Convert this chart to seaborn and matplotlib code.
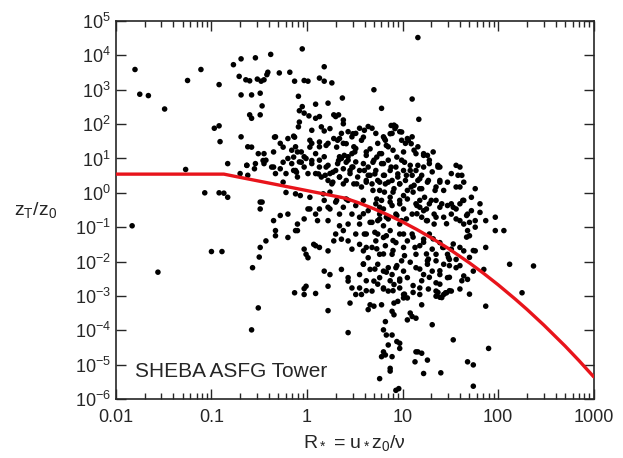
import seaborn as sns
import matplotlib.pyplot as plt
import matplotlib.ticker as mticker
import pandas as pd
import numpy as np

# scatter points, as decimal exponents (log10 R*, log10 zT/z0)
log_rstar = [
    1.16, -0.05, -0.38, -0.54, -0.69, -0.77, -1.80, -1.11, 0.18, -0.71, -0.41, -0.42, -0.29, -0.18,
    -0.64, -0.60, -0.52, -0.48, -0.45, -1.25, -0.13, -0.03, 0.01, 0.13, 0.18, 0.26, -0.92, -1.75,
    -1.66, -0.69, -0.58, -0.49, -0.09, 0.70, 1.10, 0.37, -1.49, -0.47, 0.09, 0.22, 0.78, -0.05,
    -0.08, -0.03, 0.02, 0.28, 0.30, 0.33, -0.60, -0.58, -0.49, 0.09, 0.13, 0.38, 1.17, -0.97,
    -0.92, -0.91, -0.69, -0.33, -0.14, 0.18, 0.03, 0.05,
    # 10 .. 100
    -0.62, -0.45, -0.28, -0.12, -0.10, -0.03, 0.13, 0.22, 0.28, 0.32, 0.36, 0.38, 0.43, 0.47,
    0.49, 0.51, 0.55, 0.57, 0.62, 0.64, 0.68, 0.72, 0.74, 0.78, 0.85, 0.89, 0.91, 0.93, 0.97,
    0.99, 1.03, 1.05, 1.10, 1.12, 1.14, 1.16, 1.22, 1.26, 0.47, 0.51, 0.39, 0.34, 0.43, 0.18,
    0.09, 0.80, 0.82,
    # 1 .. 10
    -0.83, -0.70, -0.63, -0.62, -0.54, -0.45, -0.43, -0.37, -0.33, -0.28, -0.22, -0.20, -0.16,
    -0.12, -0.10, -0.08, -0.03, -0.01, 0.01, 0.05, 0.09, 0.13, 0.15, 0.20, 0.22, 0.24, 0.26,
    0.30, 0.32, 0.34, 0.36, 0.38, 0.41, 0.43, 0.45, 0.47, 0.49, 0.51, 0.53, 0.55, 0.57, 0.59,
    0.62, 0.64, 0.66, 0.68, 0.70, 0.72, 0.74, 0.76, 0.78, 0.80, 0.82, 0.85, 0.87, 0.89, 0.91,
    0.93, 0.95, 0.97, 0.99, 1.01, 1.03, 1.05, 1.08, 1.10, 1.12, 1.14, 1.16, 1.18, 1.20, 1.22,
    1.26, 1.31, 1.35, 1.39, 1.43, 1.47, 1.51, 1.60, 1.62, 1.64, 1.56, 1.37, 1.28, 1.39, -1.27,
    # 0.1 .. 1
    -0.92, -0.87, -0.83, -1.07, -0.47, -0.49, -0.22, -0.12, 0.03, 0.09, 0.13, 0.18, 0.24, 0.30,
    0.34, 0.38, 0.43, 0.47, 0.51, 0.55, 0.59, 0.64, 0.68, 0.72, 0.76, 0.78, 0.80, 0.85, 0.87,
    0.89, 0.93, 0.97, 0.99, 1.01, 1.05, 1.10, 1.14, 1.18, 1.20, 1.22, 1.26, 1.28, 1.33, 1.35,
    1.39, 1.43, 1.47, 1.51, 1.56, 1.60, 1.64, 1.68, 1.72, 1.76, 1.81, 1.87, 1.97, 2.06, 1.72,
    1.51, 1.60, 1.81, 1.18, 1.33, 1.64, 1.70, 0.97, 0.80, 0.76, 0.55, 0.43, 0.34, 0.22, 0.11,
    -0.03, -0.10, -0.12, -0.20, -0.33, -0.35, -0.28, -1.83,
    # 0.01 .. 0.1
    -0.43, -0.49, -0.33, -0.20, -0.10, -0.03, -0.01, 0.01, 0.07, 0.09, 0.13, 0.22, 0.28, 0.30,
    0.36, 0.38, 0.43, 0.47, 0.51, 0.55, 0.59, 0.62, 0.64, 0.68, 0.72, 0.74, 0.76, 0.80, 0.82,
    0.87, 0.89, 0.93, 0.97, 0.99, 1.01, 1.05, 1.10, 1.14, 1.18, 1.22, 1.26, 1.28, 1.31, 1.35,
    1.39, 1.43, 1.47, 1.51, 1.56, 1.60, 1.64, 1.68, 1.70, 1.76, 1.97, 1.87, 1.49, -1.00, -0.89,
    -0.50,
    # 0.001 .. 0.01
    -1.56, -0.57, 0.18, 0.24, 0.36, 0.43, 0.47, 0.55, 0.59, 0.66, 0.70, 0.74, 0.76, 0.80, 0.85,
    0.89, 0.91, 0.97, 1.01, 1.05, 1.14, 1.18, 1.22, 1.26, 1.31, 1.35, 1.39, 1.43, 1.47, 1.51,
    1.56, 1.64, 1.68, 1.74, 1.85, 2.12, 2.37, 1.18, 1.35, 1.43, 1.46, 0.97, 0.68, 0.85, 0.55,
    -0.01, -0.03, 0.22, 0.43, 0.80, 0.93,
    # 1e-4 .. 1e-3
    -0.13, -0.03, 0.09, -0.51, 0.22, 0.45, 0.51, 0.57, 0.66, 0.78, 0.91, 0.95, 1.01, 1.05, 1.20,
    1.35, 1.39, 1.45, 1.87, 2.25, 1.08, 1.10, 1.14, 1.05, 0.82, 1.31, 0.43, 0.80, 0.64, 0.70,
    0.89, 0.91,
    # 1e-5 .. 1e-4
    -0.58, 0.83, 0.89, 0.85, 0.94, 0.97, 1.53, 1.90, 0.80, 0.82, 1.14, 1.16, 1.20, 0.78, 0.89,
    0.97, 1.13, 1.26,
    # 1e-6 .. 1e-5
    0.87, 1.68, 1.74, 0.76, 0.87, 1.22, 1.40, 0.96, 1.74, 0.93,
]
log_ratio = [
    4.52, 4.19, 4.03, 3.93, 3.90, 3.73, 3.59, 3.59, 3.67, 3.39, 3.51, 3.44, 3.49, 3.51,
    3.29, 3.26, 3.31, 3.25, 3.29, 3.27, 3.25, 3.27, 3.25, 3.34, 3.25, 3.20, 3.15, 2.87,
    2.83, 2.85, 2.85, 2.90, 2.81, 3.00, 2.73, 2.76, 2.44, 2.53, 2.58, 2.61, 2.46, 2.51,
    2.39, 2.32, 2.24, 2.27, 2.22, 2.27, 2.27, 2.17, 2.27, 2.17, 2.22, 2.12, 2.14, 1.88,
    1.95, 1.49, 1.63, 1.63, 1.65, 1.80, 1.53, 1.44,
    1.34, 1.14, 1.44, 1.34, 1.19, 1.05, 1.34, 1.44, 1.58, 1.53, 1.73, 1.44, 1.78, 1.63,
    1.34, 1.73, 1.88, 1.53, 1.19, 1.93, 1.88, 1.73, 1.44, 1.14, 1.34, 1.73, 1.97, 1.93, 1.78,
    1.53, 1.44, 1.58, 1.63, 1.24, 1.14, 1.34, 1.14, 1.09, 1.14, 1.29, 1.09, 1.05, 1.05, 1.05,
    1.14, 1.63, 1.53,
    0.85, 0.56, 0.80, 0.51, 0.85, 0.85, 0.95, 0.75, 0.56, 0.70, 0.56, 1.00, 0.85,
    0.65, 0.46, 0.90, 0.75, 1.00, 0.56, 0.85, 0.56, 0.95, 0.46, 0.75, 0.36, 0.56, 0.26,
    0.65, 0.85, 0.46, 1.00, 0.70, 0.36, 0.95, 0.56, 0.75, 0.26, 0.90, 0.46, 0.65, 0.17, 0.85,
    0.36, 0.75, 0.51, 0.26, 0.95, 0.65, 0.36, 0.07, 0.85, 0.51, 0.26, 0.95, 0.65, 0.36, 0.12,
    0.75, 0.46, 0.26, 0.95, 0.65, 0.36, 0.07, 0.80, 0.51, 0.22, 0.65, 0.36, 0.12, 0.51, 0.75,
    0.31, 0.61, 0.17, 0.36, 0.07, 0.31, 0.56, 0.75, 0.51, 0.31, 0.17, 0.80, 0.95, 0.75, 0.68,
    0.00, -0.01, -0.13, 0.00, -0.27, -0.47, 0.01, -0.03, -0.47, -0.62, -0.47, -0.22, -0.47, -0.27,
    -0.62, -0.42, -0.22, -0.62, -0.37, -0.71, -0.22, -0.52, -0.86, -0.32, -0.62, -0.22, -0.47, -0.76, -0.13,
    -0.37, -0.62, -0.22, -0.81, -0.47, -0.18, -0.62, -0.32, -0.22, -0.71, -0.52, -0.81, -0.32, -0.62, -0.22,
    -0.42, -0.71, -0.37, -0.62, -0.47, -0.81, -0.22, -0.62, -0.52, -0.81, -0.32, -0.81, -0.71, -1.10, -0.13,
    -0.32, -0.32, -0.57, -0.42, -0.91, -0.91, -0.86, -0.91, -0.96, -0.76, -0.91, -0.91, -0.96, -0.81, -0.81,
    -0.76, -0.91, -1.10, -0.62, -1.10, -0.81, -0.66, -0.96,
    -1.40, -1.59, -1.25, -1.30, -1.10, -1.64, -1.79, -1.89, -1.50, -1.54, -1.59, -1.69, -1.40, -1.20,
    -1.35, -1.10, -1.40, -1.64, -1.20, -1.50, -1.69, -1.20, -1.89, -1.59, -1.40, -1.20, -1.79, -1.30, -1.54,
    -1.10, -1.79, -1.45, -1.20, -1.98, -1.59, -1.40, -1.20, -1.79, -1.54, -1.35, -1.98, -1.20, -1.64, -1.79,
    -1.45, -1.59, -1.79, -1.64, -1.94, -1.59, -1.69, -1.10, -1.25, -1.69, -1.10, -1.59, -1.94, -1.71, -1.71,
    -1.87,
    -2.31, -2.18, -2.28, -2.38, -2.23, -2.57, -2.77, -2.38, -2.08, -2.23, -2.57, -2.08, -2.47, -2.77, -2.18,
    -2.38, -2.67, -2.57, -2.28, -2.47, -2.18, -2.77, -2.38, -2.08, -2.28, -2.62, -2.38, -2.08, -2.47, -2.86,
    -2.18, -2.42, -2.52, -2.28, -2.23, -2.08, -2.13, -2.96, -2.86, -2.96, -2.91, -2.77, -2.86, -2.86, -2.77,
    -2.72, -2.79, -2.72, -2.47, -2.28, -2.18,
    -2.91, -2.96, -2.93, -3.35, -3.43, -3.21, -2.96, -2.96, -3.26, -3.26, -3.21, -3.16, -2.96, -3.06, -3.26,
    -3.01, -3.04, -2.91, -3.30, -2.91, -3.50, -3.60, -3.65, -3.70, -3.75, -3.84, -4.07, -3.99, -3.40, -3.30,
    -3.45, -3.55,
    -3.99, -4.14, -4.14, -4.43, -4.33, -4.38, -4.28, -4.53, -4.63, -4.72, -4.63, -4.63, -4.67, -4.77, -4.77,
    -4.53, -4.92, -4.87,
    -5.11, -4.92, -5.01, -5.41, -5.19, -5.26, -5.24, -5.70, -5.63, -5.75,
]

# extra points of the dense core (R* about 0.2 .. 60), read from close-ups
core_rstar = [
    0.88, 0.92, 0.99, 0.87, 0.60, 0.59, 0.81, 0.83, 1.06, 1.09, 0.66, 0.90, 1.01, 0.62, 0.73,
    0.76, 0.94, 1.22, 1.32, 0.69, 0.80, 0.88, 1.02, 1.08, 1.16, 1.28, 1.37, 1.56, 1.58, 0.60,
    0.64, 0.71, 0.81, 0.95, 1.04, 1.18, 1.27, 1.39, 0.62, 0.76, 0.85, 0.97, 1.09, 1.20, 1.34,
    1.60, 1.76, 0.69, 0.81, 0.90, 1.01, 1.11, 1.23, 1.30, 1.41, 1.53, 1.63, 0.73, 0.87, 0.97,
    0.76, 1.15, 1.25,
    -0.08, -0.09, 0.05, 0.15, 0.24, 0.38, 0.48, 0.34, -0.13, -0.20, -0.34, -0.58, -0.51, -0.35,
    -0.25, -0.16, -0.06, 0.03, 0.13, 0.20, 0.31, 0.41, 0.50, -0.63, -0.55, -0.46, -0.35, -0.25,
    -0.14, -0.06, 0.05, 0.13, 0.22, 0.33, 0.41, 0.48, -0.14, -0.11, 0.12, 0.19, 0.27, 0.34,
    0.45, 0.27, 0.38, 0.52, -0.25, -0.49, -0.07, 0.03, 0.17, 0.24, 0.31, 0.41, 0.01, 0.22,
    0.59, 0.66, 0.74, 0.83, 0.94, 1.04, 1.15, 1.25, 1.35, 1.46, 1.56, 1.67, 1.76, 0.60, 0.71,
    0.83, 0.90, 1.01, 1.11, 1.22, 1.32, 1.42, 1.53, 1.67, 1.74, 0.62, 0.73, 0.80, 0.90, 1.02,
    1.13, 1.25, 1.35, 1.48, 1.60, 1.70, 0.59, 0.71, 0.83, 0.94, 1.08, 1.18, 1.27, 1.39, 1.49,
    0.62, 0.74, 0.87, 0.97, 1.11, 1.20, 1.28, 1.39, 1.49, 1.62, 0.62, 0.80, 0.90, 1.02, 1.11,
    1.27, 1.37, 1.49, 1.60, 1.70, 1.41, 1.01,
]
core_ratio = [
    1.96, 1.87, 1.77, 1.72, 1.82, 1.62, 1.58, 1.38, 1.53, 1.43, 1.28, 1.24, 1.19, 1.09, 1.04,
    1.14, 1.04, 1.09, 1.19, 0.89, 0.85, 0.75, 0.89, 0.65, 0.80, 0.85, 0.75, 0.80, 0.51, 0.65,
    0.51, 0.55, 0.51, 0.55, 0.51, 0.41, 0.36, 0.31, 0.31, 0.31, 0.31, 0.26, 0.17, 0.12, 0.07,
    0.17, 0.12, 0.07, 0.02, 0.02, -0.08, 0.02, -0.13, -0.22, -0.32, -0.42, -0.22, -0.18, -0.27, -0.32,
    -0.42, -0.37, -0.47,
    2.06, 1.92, 1.82, 1.92, 1.87, 2.01, 1.72, 1.58, 1.62, 1.58, 1.62, 1.33, 1.14, 1.19,
    1.33, 1.24, 1.19, 1.33, 1.48, 1.38, 1.33, 1.43, 1.19, 0.80, 0.70, 0.94, 0.75, 0.89,
    1.04, 0.89, 0.94, 0.75, 0.80, 0.94, 0.89, 0.75, 0.65, 0.60, 0.55, 0.51, 0.60, 0.46,
    0.65, 0.31, 0.26, 0.26, 0.31, -0.27, -0.08, -0.13, -0.03, 0.02, -0.22, -0.18, -0.47, -0.42,
    -0.61, -0.86, -0.81, -0.71, -0.66, -0.76, -0.61, -0.81, -0.71, -0.90, -0.76, -0.66, -1.00, -1.20, -1.15,
    -1.25, -1.39, -1.20, -1.29, -1.44, -1.34, -1.59, -1.49, -1.29, -1.68, -1.59, -1.63, -1.78, -1.68, -1.83,
    -1.59, -1.78, -1.98, -1.88, -2.12, -1.88, -2.07, -2.22, -2.31, -2.12, -2.02, -2.22, -1.93, -2.27, -2.12,
    -2.56, -2.66, -2.56, -2.51, -2.70, -2.56, -2.46, -2.66, -2.46, -2.56, -2.85, -2.80, -2.85, -2.95, -2.90,
    -2.80, -2.90, -2.85, -2.80, -2.95, -3.05, -3.06,
]

# red model curve, read at a few R* values
curve_rstar = [0.01, 0.135, 0.2, 0.5, 1, 2.5, 3.5, 5, 7, 10, 14, 20, 30, 50, 70, 100,
               150, 200, 300, 500, 700, 1000]
curve_ratio = [3.5, 3.5, 2.81, 1.70, 1.16, 0.70, 0.508, 0.344, 0.229, 0.142, 0.0864, 0.0489,
               0.0242, 0.00915, 0.00458, 0.0021, 8.17e-4, 4.05e-4, 1.42e-4, 3.5e-5, 1.31e-5, 4.4e-6]

pts = pd.DataFrame({'rstar': np.power(10.0, log_rstar + core_rstar),
                    'ratio': np.power(10.0, log_ratio + core_ratio)})
curve = pd.DataFrame({'rstar': curve_rstar, 'ratio': curve_ratio})

sns.set_style('ticks')
plt.rcParams['font.family'] = ['Liberation Sans', 'DejaVu Sans']
plt.rcParams['mathtext.fontset'] = 'custom'
plt.rcParams['mathtext.rm'] = 'Liberation Sans'
plt.rcParams['mathtext.it'] = 'Liberation Sans'

fig = plt.figure(figsize=(6.23, 4.58), dpi=100)
ax = fig.add_axes([0.186, 0.129, 0.767, 0.825])

sns.scatterplot(data=pts, x='rstar', y='ratio', ax=ax, color='black', s=16,
                edgecolor='none', zorder=2)
sns.lineplot(data=curve, x='rstar', y='ratio', ax=ax, color='#e8141b', lw=2.4,
             sort=False, estimator=None, zorder=3)

ax.set_xscale('log')
ax.set_yscale('log')
ax.set_xlim(0.01, 1000)
ax.set_ylim(1e-6, 1e5)

ax.xaxis.set_major_formatter(mticker.FuncFormatter(lambda v, p: f'{v:g}'))
ax.xaxis.set_minor_locator(mticker.LogLocator(base=10, subs=np.arange(2, 10), numticks=20))
ax.yaxis.set_major_locator(mticker.LogLocator(base=10, numticks=20))
ax.yaxis.set_minor_locator(mticker.NullLocator())
ax.tick_params(which='both', direction='in', top=True, right=True, labelsize=13, width=1)
ax.tick_params(which='major', length=7)
ax.tick_params(which='minor', length=4)
ax.tick_params(axis='x', pad=7)
for sp in ax.spines.values():
    sp.set_linewidth(1.2)

ax.set_xlabel('R$_*$ = u$_*$z$_0$/ν', fontsize=14, labelpad=5)
ax.set_ylabel('z$_T$/z$_0$', fontsize=14, rotation=0, labelpad=28, va='center')
ax.text(0.016, 10**-5.2, 'SHEBA ASFG Tower', fontsize=15, va='center', ha='left')

fig.savefig('out.png', dpi=100)
